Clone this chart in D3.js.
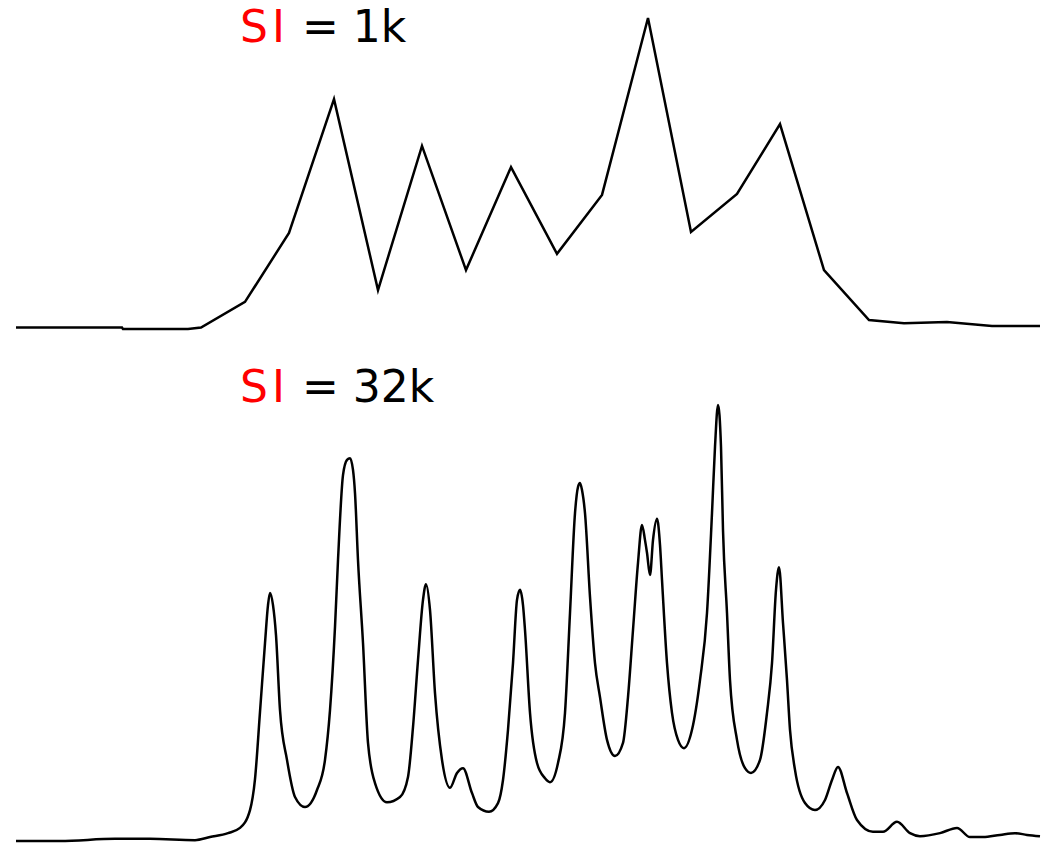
<!DOCTYPE html>
<html>
<head>
<meta charset="utf-8">
<script src="https://cdn.jsdelivr.net/npm/d3@7"></script>
<style>
  body { margin: 0; background: #fff; }
  svg { display: block; }
</style>
</head>
<body>
<svg id="vis" width="1050" height="843"></svg>
<script>
// Spectrum at SI = 1k (coarse sampling)
const coarseX = [16, 122, 123, 188, 201, 245, 289, 334, 378, 422, 466, 511, 557, 602,
  648, 691, 737, 780, 824, 869, 904, 947, 992, 1040];
const coarseY = [0.8, 0.8, 0.3, 0.3, 0.8, 9.0, 31.1, 74.0, 12.8, 59.0, 19.2, 52.2, 24.4, 43.3,
  100, 31.4, 43.6, 66.0, 19.2, 3.2, 2.2, 2.6, 1.3, 1.3];

// Spectrum at SI = 32k (fine sampling)
const fineX = [16, 60, 115, 150, 195, 210, 228, 240, 250, 255, 260, 265, 268, 270, 273, 276,
  280, 287, 295, 305, 317, 325, 330, 335, 338, 343, 347, 350, 353, 355, 358, 363, 368, 375,
  387, 400, 408, 413, 418, 423, 426, 430, 435, 442, 450, 457, 463, 472, 478, 489, 498, 503,
  508, 513, 517, 520, 523, 525, 530, 537, 545, 550, 558, 565, 570, 575, 578, 580, 582, 585,
  590, 595, 600, 607, 615, 623, 628, 633, 638, 642, 645, 647, 650, 653, 657, 660, 662, 667,
  672, 678, 684, 692, 700, 707, 712, 715, 718, 721, 723, 727, 730, 737, 745, 751, 760, 767,
  772, 776, 779, 783, 787, 790, 795, 805, 815, 825, 832, 838, 847, 857, 873, 883, 897, 910,
  920, 940, 957, 970, 983, 1000, 1015, 1027, 1040];
const fineY = [0, 0, 0.5, 0.5, 0.2, 0.9, 1.8, 3.0, 7.1, 14.2, 29.6, 45.4, 54.1, 56.9, 54.1, 47.2,
  30.0, 18.6, 10.1, 7.8, 11.7, 18.6, 30.0, 49.1, 64.4, 83.9, 87.4, 87.8, 85.1, 79.8, 64.4, 45.4, 22.5, 13.3,
  8.9, 10.1, 14.7, 26.1, 41.5, 55.3, 58.9, 53.0, 33.9, 18.6, 12.2, 15.6, 16.7, 11.0, 7.8, 6.7, 8.7, 14.0,
  25.5, 40.8, 55.3, 57.6, 54.1, 48.4, 29.4, 17.9, 14.4, 13.5, 17.9, 29.4, 52.3, 75.2, 81.2, 82.1, 80.5, 75.2,
  56.0, 40.8, 33.0, 23.2, 19.5, 22.5, 33.0, 48.4, 63.8, 72.5, 69.0, 66.1, 61.0, 69.0, 73.9, 67.9, 59.9, 40.8,
  29.4, 23.2, 21.3, 25.5, 36.9, 52.3, 75.2, 90.4, 100, 90.4, 71.3, 52.3, 36.9, 23.2, 16.7, 15.6, 18.6, 29.4,
  40.8, 57.6, 62.8, 50.0, 36.9, 25.5, 16.3, 8.7, 7.1, 9.4, 14.0, 17.0, 11.0, 4.8, 2.1, 2.1, 4.4, 1.8,
  1.1, 1.8, 3.0, 0.9, 0.9, 1.4, 1.8, 1.4, 1.1];

const panelLabels = ['1k', '32k'];

const svg = d3.select('#vis');
const width = +svg.attr('width');

const x = d3.scaleLinear().domain([0, 1050]).range([0, width]);
const yTop = d3.scaleLinear().domain([0, 100]).range([330, 18]);
const yBottom = d3.scaleLinear().domain([0, 100]).range([841, 405]);

function drawPanel(xs, ys, y, curve) {
  const pts = xs.map((d, i) => [d, ys[i]]);
  const line = d3.line()
    .x(d => x(d[0]))
    .y(d => y(d[1]))
    .curve(curve);
  svg.append('path')
    .datum(pts)
    .attr('d', line)
    .attr('fill', 'none')
    .attr('stroke', '#000')
    .attr('stroke-width', 2.5);
}

function drawLabel(value, baseY) {
  const t = svg.append('text')
    .attr('y', baseY)
    .style('font-family', '"DejaVu Sans", Verdana, sans-serif')
    .style('font-size', '44px');
  t.append('tspan').attr('x', 240).attr('fill', 'red')
    .style('letter-spacing', '4px').text('SI');
  t.append('tspan').attr('x', 302).attr('fill', '#000').text('= ' + value);
}

drawPanel(coarseX, coarseY, yTop, d3.curveLinear);
drawPanel(fineX, fineY, yBottom, d3.curveMonotoneX);

drawLabel(panelLabels[0], 42);
drawLabel(panelLabels[1], 402);
</script>
</body>
</html>
